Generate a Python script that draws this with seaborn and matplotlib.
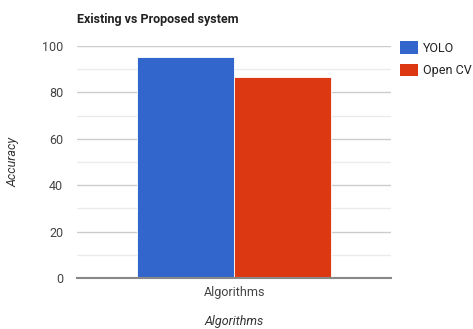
import matplotlib
matplotlib.use("Agg")
import matplotlib.pyplot as plt
import seaborn as sns
import pandas as pd
from matplotlib.patches import Patch

categories = ["Algorithms"]
series = ["YOLO", "Open CV"]
yolo_values = [95.4]
opencv_values = [86.7]
y_ticks = [0, 20, 40, 60, 80, 100]
colors = ["#3366CC", "#DC3912"]

df = pd.DataFrame({
    "Category": categories * 2,
    "Series": [series[0]] * len(categories) + [series[1]] * len(categories),
    "Accuracy": yolo_values + opencv_values,
})

sns.set_theme(style="white")
plt.rcParams["font.family"] = ["Roboto", "DejaVu Sans"]

fig = plt.figure(figsize=(4.73, 3.29), dpi=100)
ax = fig.add_axes([0.163, 0.155, 0.664, 0.705])

sns.barplot(data=df, x="Category", y="Accuracy", hue="Series",
            palette=colors, width=0.62, ax=ax, legend=False,
            edgecolor="none", linewidth=0, saturation=1)
for p in ax.patches:
    p.set_edgecolor("white")
    p.set_linewidth(0.6)

ax.set_ylim(0, 100)
ax.set_xlim(-0.5, 0.5)
ax.set_yticks(y_ticks)
ax.set_yticks(range(10, 100, 20), minor=True)
ax.grid(axis="y", which="major", color="#cccccc", linewidth=1)
ax.grid(axis="y", which="minor", color="#ebebeb", linewidth=1)
ax.set_axisbelow(True)
for s in ["top", "right", "left"]:
    ax.spines[s].set_visible(False)
ax.spines["bottom"].set_color("#888888")
ax.spines["bottom"].set_linewidth(1.5)
ax.tick_params(axis="both", which="both", length=0, labelsize=9, colors="#444444", pad=6)
ax.tick_params(axis="y", pad=10)

ax.set_xlabel("Algorithms", fontsize=9, style="italic", color="#333333", labelpad=11)
ax.set_ylabel("Accuracy", fontsize=9, style="italic", color="#333333", labelpad=16)
fig.text(0.163, 0.94, "Existing vs Proposed system", fontsize=9, fontweight="bold",
         color="#222222", ha="left", va="center")

handles = [Patch(facecolor=c, edgecolor="none") for c in colors]
fig.legend(handles, series, loc="upper left", bbox_to_anchor=(0.845, 0.875),
           frameon=False, fontsize=9, handlelength=1.5, handleheight=1.15,
           handletextpad=0.35, labelspacing=0.75, borderaxespad=0, borderpad=0,
           labelcolor="#222222")

fig.savefig("out.png", dpi=100)
